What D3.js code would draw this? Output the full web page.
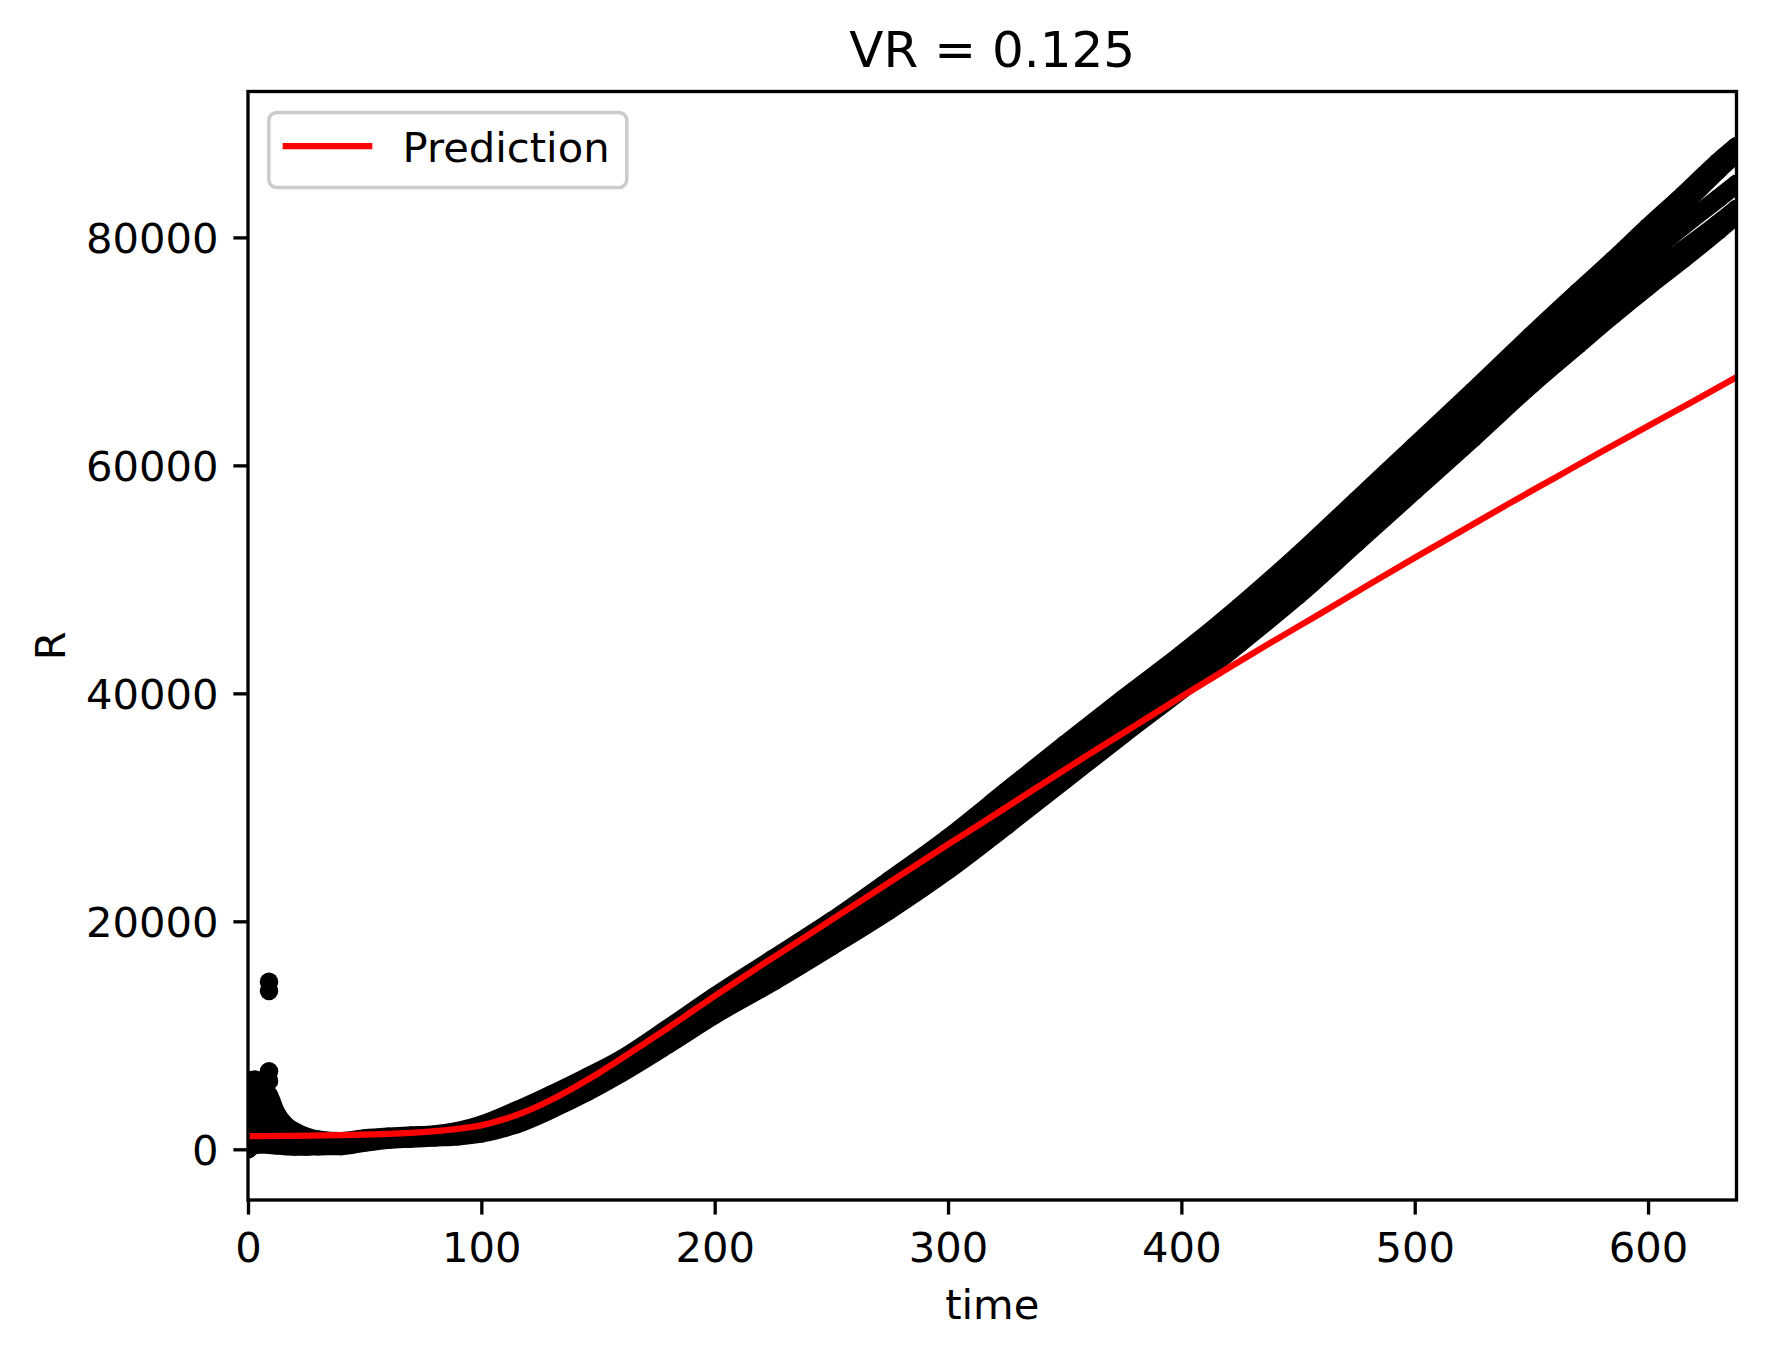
<!DOCTYPE html>
<html><head><meta charset="utf-8">
<script src="https://cdn.jsdelivr.net/npm/d3@7"></script>
<style>body{margin:0;background:#fff} text{font-family:"DejaVu Sans",sans-serif;fill:#000}</style>
</head><body><svg id="c" width="1766" height="1357"></svg>
<script>
// ---- data ----
const times = [0, 3, 6, 9, 12, 16, 20, 25, 30, 40, 50, 60, 70, 80, 90, 100, 115, 130, 145, 160, 180, 200, 225, 250, 275, 300, 325, 350, 375, 400, 425, 450, 475, 500, 525, 550, 570, 585, 600, 615, 630, 638];
const runA = [6000, 6100, 5500, 4700, 3200, 2100, 1550, 1100, 850, 700, 950, 1100, 1200, 1300, 1600, 2150, 3400, 4800, 6300, 7900, 10600, 13400, 16700, 20000, 23600, 27300, 31400, 35500, 39500, 43400, 47600, 52100, 56900, 61700, 66500, 71400, 75200, 78000, 80900, 83700, 86600, 88000];
const runB = [4500, 4700, 4200, 3600, 2500, 1650, 1200, 900, 700, 600, 860, 1040, 1140, 1240, 1490, 1960, 3100, 4480, 5980, 7600, 10250, 13000, 16200, 19450, 22950, 26600, 30650, 34720, 38720, 42620, 46800, 51220, 55980, 60720, 65480, 70320, 74600, 77300, 80100, 82900, 85900, 87400];
const runC = [3000, 3250, 2950, 2550, 1800, 1200, 900, 680, 560, 500, 780, 980, 1080, 1180, 1380, 1780, 2800, 4150, 5650, 7300, 9900, 12600, 15700, 18900, 22300, 25900, 29900, 33950, 37950, 41850, 46000, 50350, 55050, 59750, 64450, 69250, 73300, 75900, 78500, 81000, 83400, 84700];
const runD = [1500, 1800, 1700, 1500, 1050, 750, 580, 460, 420, 400, 690, 910, 1010, 1110, 1260, 1590, 2500, 3830, 5330, 7000, 9550, 12200, 15200, 18350, 21650, 25200, 29150, 33180, 37180, 41080, 45200, 49480, 54130, 58780, 63430, 68180, 71700, 74000, 76700, 78900, 81200, 82500];
const runE = [0, 400, 450, 400, 350, 300, 250, 250, 280, 300, 600, 850, 950, 1050, 1150, 1400, 2200, 3500, 5000, 6700, 9200, 11800, 14700, 17800, 21000, 24500, 28400, 32400, 36400, 40300, 44400, 48600, 53200, 57800, 62400, 67100, 70600, 73200, 75700, 78100, 80600, 82000];
const outlierTimes = [9, 9, 9, 9];
const outlierValues = [14700, 13900, 6850, 6000];
const predTimes = [0, 20, 40, 60, 70, 80, 90, 100, 110, 120, 130, 140, 150, 160, 170, 180, 190, 200, 220, 240, 260, 280, 300, 320, 340, 360, 380, 400, 420, 440, 460, 480, 500, 520, 540, 560, 580, 600, 620, 638];
const predValues = [1150, 1180, 1250, 1350, 1450, 1600, 1800, 2100, 2650, 3400, 4350, 5450, 6650, 7950, 9300, 10650, 12050, 13450, 16150, 18800, 21450, 24100, 26750, 29350, 32000, 34600, 37150, 39700, 42200, 44650, 47050, 49500, 51900, 54250, 56600, 58900, 61200, 63450, 65700, 67750];
const xTicks = [0, 100, 200, 300, 400, 500, 600];
const yTicks = [0, 20000, 40000, 60000, 80000];
const titleText = "VR = 0.125";
const xLabel = "time";
const yLabel = "R";
const legendLabel = "Prediction";

// ---- layout ----
const W = 1766, H = 1357;
const L = 248, R = 1736.5, T = 91.5, B = 1200;
const x = d3.scaleLinear().domain([0, 637.9]).range([L, R]);
const y = d3.scaleLinear().domain([-4448, 92800]).range([B, T]);
const svg = d3.select("#c");
svg.append("rect").attr("width", W).attr("height", H).attr("fill", "#fff");

svg.append("clipPath").attr("id", "plotclip").append("rect")
  .attr("x", L).attr("y", T).attr("width", R - L).attr("height", B - T);
const plot = svg.append("g").attr("clip-path", "url(#plotclip)");

const runs = [runA, runB, runC, runD, runE];
const line = d3.line().x(d => x(d[0])).y(d => y(d[1])).curve(d3.curveMonotoneX);
runs.forEach(vals => {
  const pts = times.map((t, i) => [t, vals[i]]);
  plot.append("path").attr("d", line(pts)).attr("fill", "none")
    .attr("stroke", "#000").attr("stroke-width", 18.6)
    .attr("stroke-linecap", "round").attr("stroke-linejoin", "round");
  plot.selectAll(null).data(pts).enter().append("circle")
    .attr("cx", d => x(d[0])).attr("cy", d => y(d[1])).attr("r", 9.3).attr("fill", "#000");
});
plot.selectAll(null).data(outlierTimes.map((t, i) => [t, outlierValues[i]])).enter()
  .append("circle").attr("cx", d => x(d[0])).attr("cy", d => y(d[1])).attr("r", 9.3).attr("fill", "#000");

plot.append("path").attr("d", line(predTimes.map((t, i) => [t, predValues[i]])))
  .attr("fill", "none").attr("stroke", "#ff0000").attr("stroke-width", 6.25);

// ---- axes ----
const fs = 41.7;
const xa = svg.append("g").attr("transform", `translate(0,${B})`)
  .call(d3.axisBottom(x).tickValues(xTicks).tickSize(14.6).tickSizeOuter(0).tickFormat(d3.format("d")));
xa.select(".domain").remove();
xa.selectAll(".tick line").attr("stroke", "#000").attr("stroke-width", 3.33);
xa.selectAll(".tick text").attr("y", 61.5).attr("dy", null)
  .attr("font-size", fs).attr("font-family", "DejaVu Sans").attr("fill", "#000");

const ya = svg.append("g").attr("transform", `translate(${L},0)`)
  .call(d3.axisLeft(y).tickValues(yTicks).tickSize(14.6).tickSizeOuter(0).tickFormat(d3.format("d")));
ya.select(".domain").remove();
ya.selectAll(".tick line").attr("stroke", "#000").attr("stroke-width", 3.33);
ya.selectAll(".tick text").attr("x", -29.4).attr("dy", "0.3645em")
  .attr("font-size", fs).attr("font-family", "DejaVu Sans").attr("fill", "#000");

svg.append("rect").attr("x", L).attr("y", T).attr("width", R - L).attr("height", B - T)
  .attr("fill", "none").attr("stroke", "#000").attr("stroke-width", 3.33)
  .attr("stroke-linejoin", "miter");

// ---- labels ----
svg.append("text").attr("x", (L + R) / 2).attr("y", 66.7).attr("text-anchor", "middle")
  .attr("font-size", 50).text(titleText);
svg.append("text").attr("x", (L + R) / 2).attr("y", 1319).attr("text-anchor", "middle")
  .attr("font-size", fs).text(xLabel);
svg.append("text").attr("transform", `translate(65,${(T + B) / 2}) rotate(-90)`)
  .attr("text-anchor", "middle").attr("font-size", fs).text(yLabel);

// ---- legend ----
const lg = svg.append("g");
lg.append("rect").attr("x", 268.8).attr("y", 112.5).attr("width", 358).attr("height", 75)
  .attr("rx", 8).attr("fill", "#fff").attr("fill-opacity", 0.8)
  .attr("stroke", "#cccccc").attr("stroke-width", 3.5);
lg.append("line").attr("x1", 285.8).attr("x2", 369.2).attr("y1", 146).attr("y2", 146)
  .attr("stroke", "#ff0000").attr("stroke-width", 6.25).attr("stroke-linecap", "square");
lg.append("text").attr("x", 402.5).attr("y", 161.5).attr("font-size", fs).text(legendLabel);
</script>
</body></html>
